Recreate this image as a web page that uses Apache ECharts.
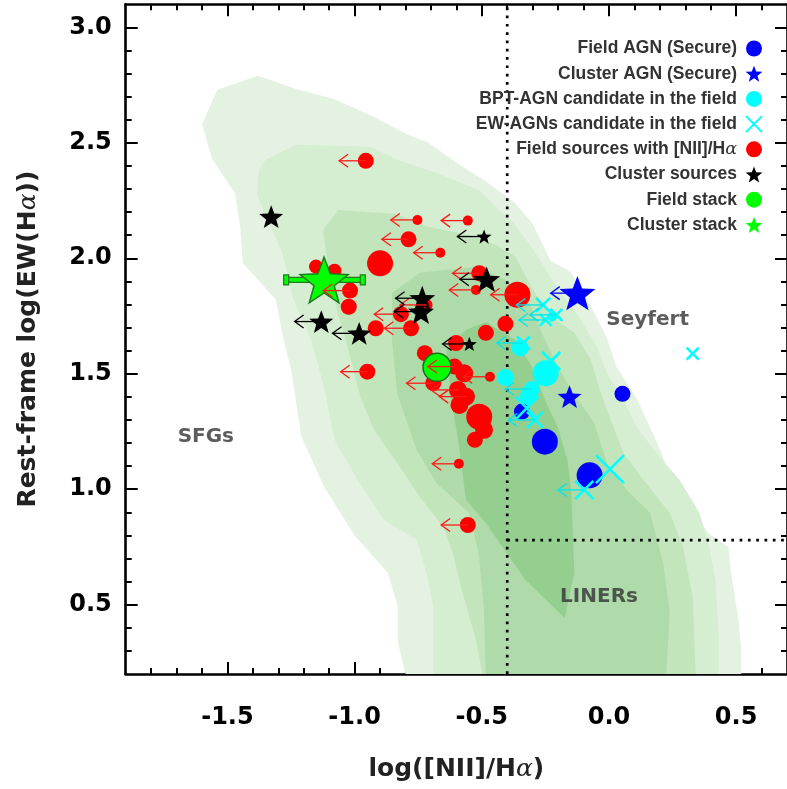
<!DOCTYPE html>
<html><head><meta charset="utf-8">
<script src="https://cdn.jsdelivr.net/npm/echarts@6/dist/echarts.min.js"></script>
<style>html,body{margin:0;padding:0;background:#fff}#c{width:787px;height:789px}</style>
</head><body><div id="c"></div>
<script>
// ---------- axes ----------
const X_RANGE = [-1.9, 0.7];
const Y_RANGE = [0.2, 3.1];
const X_MAJOR = [-1.5, -1.0, -0.5, 0.0, 0.5];
const X_MINOR = [-1.8,-1.7,-1.6,-1.4,-1.3,-1.2,-1.1,-0.9,-0.8,-0.7,-0.6,-0.4,-0.3,-0.2,-0.1,0.1,0.2,0.3,0.4,0.6];
const Y_MAJOR = [0.5, 1.0, 1.5, 2.0, 2.5, 3.0];
const Y_MINOR = [0.3,0.4,0.6,0.7,0.8,0.9,1.1,1.2,1.3,1.4,1.6,1.7,1.8,1.9,2.1,2.2,2.3,2.4,2.6,2.7,2.8,2.9];
const X_TITLE = 'log([NII]/H{a|α})';
const Y_TITLE = 'Rest-frame log(EW(H{a|α}))';

// demarcation lines
const BPT_X = -0.4;
const EW_Y = 0.78;

// region labels
const regionNames = ['SFGs', 'Seyfert', 'LINERs'];
const regionX = [-1.585, 0.152, -0.039];
const regionY = [1.226, 1.735, 0.534];

// ---------- points: [x, y, markerSize, upperLimitFlag] ----------
const fieldSources = [
  [-0.956,2.422,16,1],[-0.753,2.166,10,1],[-0.555,2.163,10,1],[-0.788,2.082,16,1],
  [-0.663,2.024,10,1],[-0.900,1.978,26,0],[-1.152,1.964,14,0],[-1.079,1.946,14,0],
  [-1.018,1.860,16,1],[-1.023,1.790,16,0],[-0.510,1.935,16,1],[-0.523,1.863,10,1],
  [-0.818,1.758,16,1],[-0.717,1.798,12,1],[-0.917,1.697,16,0],[-0.778,1.697,16,1],
  [-0.407,1.716,16,0],[-0.484,1.677,16,0],[-0.360,1.842,26,1],[-0.601,1.633,16,0],
  [-0.724,1.589,16,0],[-0.607,1.531,16,1],[-0.691,1.459,16,1],[-0.569,1.502,18,0],
  [-0.562,1.401,18,1],[-0.594,1.430,18,1],[-0.588,1.365,18,0],[-0.510,1.314,26,0],
  [-0.491,1.257,18,0],[-0.527,1.214,16,0],[-0.468,1.487,10,1],[-0.590,1.110,10,1],
  [-0.950,1.509,16,1],[-0.555,0.845,16,1]
];
const clusterSources = [
  [-1.328,2.180,24,0],[-0.491,2.094,15,1],[-0.481,1.909,27,1],[-0.734,1.827,26,1],
  [-0.739,1.769,26,1],[-1.131,1.726,24,1],[-0.982,1.675,24,1],[-0.549,1.629,15,1]
];
const fieldAGN = [
  [-0.342,1.336,16,0],[-0.252,1.206,26,0],[-0.076,1.060,26,0],[0.053,1.413,16,0]
];
const clusterAGN = [
  [-0.124,1.849,36,1],[-0.155,1.401,24,0]
];
const bptCandidates = [
  [-0.349,1.611,17,0],[-0.249,1.502,26,0],[-0.407,1.484,17,0],[-0.303,1.434,16,1],
  [-0.317,1.401,17,0],[-0.223,1.748,10,0]
];
const ewCandidates = [
  [-0.259,1.798,14,1],[-0.207,1.755,12,1],[-0.249,1.733,12,1],[-0.336,1.633,13,1],
  [-0.227,1.555,18,0],[-0.323,1.351,23,0],[-0.291,1.300,16,1],[0.004,1.087,28,0],
  [-0.097,0.997,18,1],[0.329,1.587,12,0]
];
// stacks
const fieldStack = [[-0.676,1.528,28]];
const clusterStack = [[-1.120,1.906,48]];
const clusterStackXErr = [[-1.275,-0.962]];

// ---------- density contours (outer -> inner), [x,y] ----------
const contour1 = [[-1.60,2.58],[-1.54,2.73],[-1.38,2.79],[-1.22,2.73],[-1.08,2.69],[-0.92,2.61],[-0.80,2.54],[-0.71,2.50],[-0.58,2.40],[-0.48,2.33],[-0.37,2.24],[-0.30,2.15],[-0.23,1.99],[-0.15,1.94],[-0.07,1.79],[-0.01,1.66],[0.03,1.53],[0.11,1.39],[0.19,1.20],[0.24,1.06],[0.33,0.91],[0.39,0.81],[0.47,0.75],[0.48,0.64],[0.51,0.43],[0.52,0.31],[0.52,0.20],[-0.80,0.20],[-0.83,0.34],[-0.83,0.49],[-0.87,0.64],[-1.00,0.80],[-1.12,1.01],[-1.21,1.23],[-1.25,1.52],[-1.28,1.65],[-1.31,1.82],[-1.44,1.98],[-1.45,2.14],[-1.47,2.28],[-1.56,2.43]];
const contour2 = [[-1.384,2.274],[-1.376,2.382],[-1.350,2.426],[-1.234,2.491],[-0.938,2.483],[-0.833,2.426],[-0.678,2.369],[-0.512,2.296],[-0.368,2.144],[-0.291,2.027],[-0.205,1.876],[-0.110,1.733],[-0.047,1.617],[-0.008,1.503],[0.058,1.387],[0.109,1.271],[0.186,1.157],[0.278,1.040],[0.356,0.897],[0.394,0.752],[0.419,0.608],[0.433,0.319],[0.433,0.20],[-0.691,0.20],[-0.691,0.492],[-0.717,0.638],[-0.756,0.781],[-0.885,0.868],[-0.988,1.041],[-1.079,1.214],[-1.124,1.460],[-1.171,1.646],[-1.244,1.832],[-1.283,2.018]];
const contour3 = [[-1.124,2.122],[-1.066,2.209],[-0.833,2.192],[-0.717,2.137],[-0.550,2.101],[-0.446,2.058],[-0.368,2.007],[-0.291,1.850],[-0.226,1.747],[-0.136,1.677],[-0.071,1.560],[-0.032,1.417],[0.007,1.300],[0.058,1.156],[0.136,1.040],[0.239,0.897],[0.291,0.752],[0.329,0.535],[0.341,0.20],[-0.497,0.20],[-0.523,0.348],[-0.575,0.551],[-0.614,0.724],[-0.652,0.837],[-0.744,0.967],[-0.822,1.097],[-0.924,1.257],[-0.977,1.400],[-1.035,1.646],[-1.066,1.763],[-1.105,1.964]];
const contour4 = [[-0.853,1.850],[-0.744,1.937],[-0.523,1.963],[-0.407,1.907],[-0.318,1.820],[-0.265,1.677],[-0.202,1.531],[-0.148,1.430],[-0.058,1.287],[-0.008,1.114],[0.070,0.997],[0.162,0.897],[0.213,0.681],[0.239,0.465],[0.225,0.20],[-0.484,0.20],[-0.492,0.490],[-0.512,0.724],[-0.550,0.897],[-0.678,1.027],[-0.756,1.170],[-0.833,1.417],[-0.853,1.646]];
const contour5 = [[-0.640,1.603],[-0.562,1.690],[-0.484,1.724],[-0.368,1.646],[-0.303,1.531],[-0.252,1.387],[-0.202,1.271],[-0.163,1.127],[-0.148,0.984],[-0.136,0.638],[-0.174,0.443],[-0.329,0.608],[-0.484,0.854],[-0.562,0.954],[-0.593,1.214],[-0.620,1.387]];

// ---------- styling ----------
const CONTOUR_COLORS = ['#e4f3e1', '#d5edd0', '#c2e5bc', '#aedba9', '#95cf8f'];
const ARROW_LEN = 0.105;
const STAR = 'path://M0,-10L2.469,-3.398L9.511,-3.09L3.994,1.298L5.878,8.09L0,4.2L-5.878,8.09L-3.994,1.298L-9.511,-3.09L-2.469,-3.398Z';
const XMARK = 'path://M0,0L10,10M10,0L0,10';
const FONT = 'DejaVu Sans';

function contourSeries(points, color, z) {
  return {
    type: 'custom', coordinateSystem: 'cartesian2d', silent: true, z: z, clip: true,
    data: [[points[0][0], points[0][1]]],
    renderItem: function (params, api) {
      return { type: 'polygon', shape: { points: points.map(function (p) { return api.coord(p); }) },
               style: { fill: color } };
    }
  };
}
function arrowSeries(points, color) {
  const d = points.filter(function (p) { return p[3] === 1; }).map(function (p) { return [p[0], p[1]]; });
  return {
    type: 'custom', coordinateSystem: 'cartesian2d', silent: true, z: 30, data: d,
    renderItem: function (params, api) {
      const p0 = api.coord([api.value(0), api.value(1)]);
      const p1 = api.coord([api.value(0) - ARROW_LEN, api.value(1)]);
      return { type: 'group', children: [
        { type: 'line', shape: { x1: p0[0], y1: p0[1], x2: p1[0], y2: p1[1] }, style: { stroke: color, lineWidth: 1.3 } },
        { type: 'polyline', shape: { points: [[p1[0] + 9, p1[1] - 6.5], [p1[0], p1[1]], [p1[0] + 9, p1[1] + 6.5]] },
          style: { stroke: color, fill: null, lineWidth: 1.3 } }
      ]};
    }
  };
}
function scatterSeries(name, points, symbol, style, z) {
  return {
    name: name, type: 'scatter', z: z, data: points, symbol: symbol, symbolKeepAspect: true,
    symbolSize: function (v) { return v[2]; }, itemStyle: Object.assign({ opacity: 1 }, style),
    emphasis: { disabled: true }, silent: true
  };
}

const series = [
  contourSeries(contour1, CONTOUR_COLORS[0], 1),
  contourSeries(contour2, CONTOUR_COLORS[1], 1),
  contourSeries(contour3, CONTOUR_COLORS[2], 1),
  contourSeries(contour4, CONTOUR_COLORS[3], 1),
  contourSeries(contour5, CONTOUR_COLORS[4], 1),
  { type: 'line', silent: true, z: 3, symbol: 'none', data: [[BPT_X, Y_RANGE[0]], [BPT_X, Y_RANGE[1]]],
    lineStyle: { color: '#000', width: 2.7, type: [2.7, 5.6] } },
  { type: 'line', silent: true, z: 3, symbol: 'none', data: [[BPT_X, EW_Y], [X_RANGE[1], EW_Y]],
    lineStyle: { color: '#000', width: 2.7, type: [2.7, 5.6] } },
  { type: 'scatter', silent: true, z: 4, symbolSize: 0,
    data: regionNames.map(function (n, i) { return { name: n, value: [regionX[i], regionY[i]] }; }),
    label: { show: true, position: 'inside', formatter: function (p) { return p.name; },
             fontFamily: FONT, fontWeight: 'bold', fontSize: 20, color: '#333' } },
  scatterSeries('Field sources with [NII]/Hα', fieldSources, 'circle', { color: '#ff0000' }, 10),
  scatterSeries('Cluster sources', clusterSources, STAR, { color: '#000000' }, 11),
  scatterSeries('BPT-AGN candidate in the field', bptCandidates, 'circle', { color: '#00ffff' }, 12),
  scatterSeries('Field AGN (Secure)', fieldAGN, 'circle', { color: '#0000ff' }, 13),
  scatterSeries('EW-AGNs candidate in the field', ewCandidates, XMARK,
    { color: 'rgba(0,0,0,0)', borderColor: '#00ffff', borderWidth: 2.6 }, 14),
  scatterSeries('Cluster AGN (Secure)', clusterAGN, STAR, { color: '#0000ff' }, 15),
  scatterSeries('Field stack', fieldStack, 'circle', { color: '#00ff00', borderColor: '#1d6b1d', borderWidth: 1.5 }, 16),
  { type: 'custom', coordinateSystem: 'cartesian2d', silent: true, z: 17,
    data: clusterStack.map(function (p, i) { return [p[0], p[1], clusterStackXErr[i][0], clusterStackXErr[i][1]]; }),
    renderItem: function (params, api) {
      const a = api.coord([api.value(2), api.value(1)]);
      const b = api.coord([api.value(3), api.value(1)]);
      const st = { fill: '#00ff00', stroke: '#1d7a1d', lineWidth: 1.2 };
      return { type: 'group', children: [
        { type: 'rect', shape: { x: a[0], y: a[1] - 2.5, width: b[0] - a[0], height: 5 }, style: st },
        { type: 'rect', shape: { x: a[0] - 1, y: a[1] - 5, width: 5, height: 10 }, style: st },
        { type: 'rect', shape: { x: b[0] - 4, y: b[1] - 5, width: 5, height: 10 }, style: st }
      ]};
    } },
  scatterSeries('Cluster stack', clusterStack, STAR, { color: '#00ff00', borderColor: '#1d7a1d', borderWidth: 1.5 }, 18),
  arrowSeries(fieldSources, '#ff1a1a'),
  arrowSeries(clusterSources, '#000000'),
  arrowSeries(clusterAGN, '#0000ff'),
  arrowSeries(bptCandidates, '#00e5ee'),
  arrowSeries(ewCandidates, '#00e5ee')
];

const titleStyle = { fontFamily: FONT, fontWeight: 'bold', fontSize: 25, color: '#222',
  rich: { a: { fontFamily: 'DejaVu Serif', fontStyle: 'italic', fontWeight: 'normal', fontSize: 25, color: '#222' } } };
const labelStyle = { fontFamily: FONT, fontWeight: 'bold', fontSize: 24, color: '#000' };
const lineSt = { color: '#000', width: 2.6 };
const tickSt = { color: '#000', width: 2 };

function axis(dim, pos, ticks, len, showLine, extra) {
  const r = dim === 'x' ? X_RANGE : Y_RANGE;
  return Object.assign({
    type: 'value', position: pos, min: r[0], max: r[1], splitLine: { show: false },
    axisLine: { show: showLine, onZero: false, lineStyle: lineSt },
    axisTick: { show: true, inside: true, length: len, lineStyle: tickSt, customValues: ticks },
    axisLabel: { show: false }
  }, extra || {});
}

const option = {
  animation: false,
  backgroundColor: '#fff',
  grid: { left: 125.7, top: 4.2, width: 669.8, height: 669.8 },
  xAxis: [
    axis('x', 'bottom', X_MAJOR, 12, true, {
      axisLabel: Object.assign({ show: true, customValues: X_MAJOR, margin: 32,
        formatter: function (v) { return v.toFixed(1); } }, labelStyle),
      name: X_TITLE, nameLocation: 'middle', nameGap: 83, nameTextStyle: titleStyle }),
    axis('x', 'bottom', X_MINOR, 6, false),
    axis('x', 'top', X_MAJOR, 12, true),
    axis('x', 'top', X_MINOR, 6, false)
  ],
  yAxis: [
    axis('y', 'left', Y_MAJOR, 12, true, {
      axisLabel: Object.assign({ show: true, customValues: Y_MAJOR, margin: 14,
        formatter: function (v) { return v.toFixed(1); } }, labelStyle),
      name: Y_TITLE, nameLocation: 'middle', nameRotate: 90, nameGap: 85, nameTextStyle: titleStyle }),
    axis('y', 'left', Y_MINOR, 6, false),
    axis('y', 'right', Y_MAJOR, 12, true),
    axis('y', 'right', Y_MINOR, 6, false)
  ],
  legend: {
    data: [
      { name: 'Field AGN (Secure)' },
      { name: 'Cluster AGN (Secure)' },
      { name: 'BPT-AGN candidate in the field' },
      { name: 'EW-AGNs candidate in the field' },
      { name: 'Field sources with [NII]/Hα' },
      { name: 'Cluster sources' },
      { name: 'Field stack', itemStyle: { borderWidth: 0 } },
      { name: 'Cluster stack', itemStyle: { borderWidth: 0 } }
    ],
    orient: 'vertical', align: 'right', right: 19, top: 34.5,
    itemWidth: 24, itemHeight: 16, itemGap: 7.2, selectedMode: false,
    formatter: function (n) { return n.replace('α', '{a|α}'); },
    textStyle: { fontFamily: 'Liberation Sans', fontWeight: 'bold', fontSize: 17.5, color: '#333', lineHeight: 18,
      rich: { a: { fontFamily: 'DejaVu Serif', fontStyle: 'italic', fontWeight: 'normal', fontSize: 17.5, color: '#333', lineHeight: 18 } } }
  },
  series: series
};

const chart = echarts.init(document.getElementById('c'), null, { renderer: 'canvas' });
chart.setOption(option);
</script>
</body></html>
